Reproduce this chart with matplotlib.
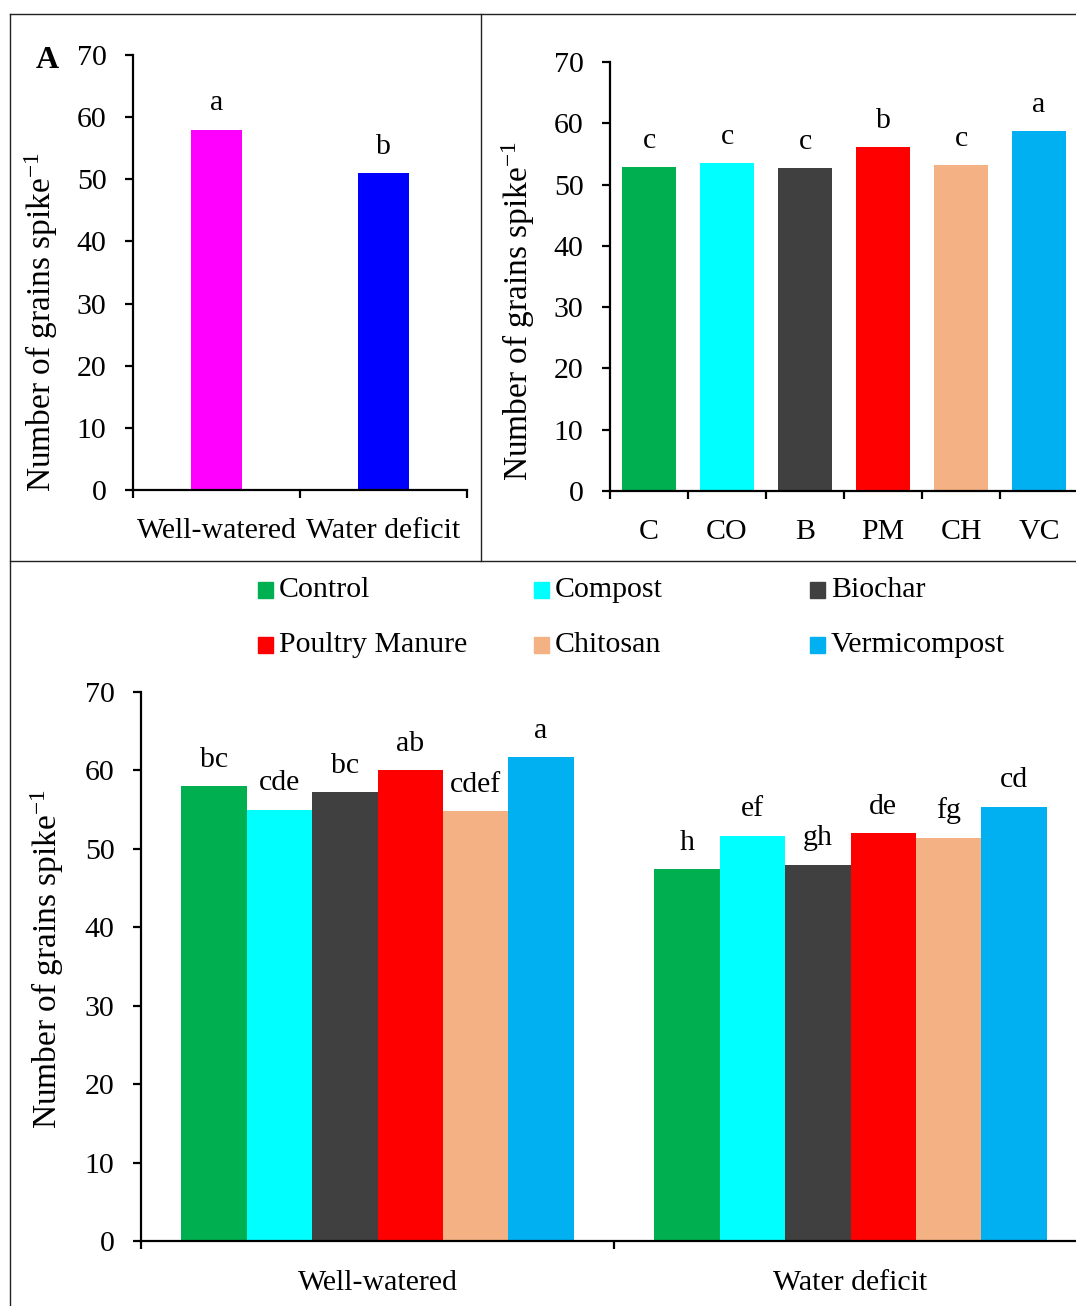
import matplotlib
matplotlib.use("Agg")
import matplotlib.pyplot as plt
from matplotlib.lines import Line2D
from matplotlib.patches import Rectangle
import numpy as np

plt.rcParams['font.family'] = ['Liberation Serif', 'DejaVu Serif']
plt.rcParams['mathtext.fontset'] = 'custom'
plt.rcParams['mathtext.rm'] = 'Liberation Serif'
plt.rcParams['mathtext.default'] = 'regular'

# ---- data ----
water = ['Well-watered', 'Water deficit']
water_vals = [58.0, 51.0]
water_letters = ['a', 'b']
water_colors = ['#FF00FF', '#0000FF']

amend_short = ['C', 'CO', 'B', 'PM', 'CH', 'VC']
amend_vals = [52.8, 53.5, 52.7, 56.1, 53.2, 58.7]
amend_letters = ['c', 'c', 'c', 'b', 'c', 'a']

amend_names = ['Control', 'Compost', 'Biochar', 'Poultry Manure', 'Chitosan', 'Vermicompost']
amend_colors = ['#00B050', '#00FFFF', '#404040', '#FF0000', '#F4B183', '#00B0F0']
ww_vals = [58.0, 55.0, 57.2, 60.0, 54.8, 61.7]
wd_vals = [47.4, 51.7, 48.0, 52.0, 51.4, 55.4]
ww_letters = ['bc', 'cde', 'bc', 'ab', 'cdef', 'a']
wd_letters = ['h', 'ef', 'gh', 'de', 'fg', 'cd']

ylab = 'Number of grains spike$^{-1}$'
FS = 21.5
YFS = 24
W, H = 1076, 1306


def style(ax, ncat, xpad):
    for s in ['top', 'right']:
        ax.spines[s].set_visible(False)
    for s in ['left', 'bottom']:
        ax.spines[s].set_linewidth(1.6)
    ax.set_ylim(0, 70)
    ax.set_yticks(np.arange(0, 71, 10))
    ax.set_xlim(-0.5, ncat - 0.5)
    ax.set_xticks(np.arange(-0.5, ncat, 1.0), minor=True)
    ax.tick_params(axis='y', direction='out', length=6, width=1.6, pad=13, labelsize=FS)
    ax.tick_params(axis='x', which='minor', direction='out', length=6, width=1.6)
    ax.tick_params(axis='x', which='major', length=0, pad=xpad, labelsize=FS)


fig = plt.figure(figsize=(W / 100, H / 100), dpi=100)

# panel A
axA = fig.add_axes([133 / W, 1 - 490 / H, (467 - 133) / W, (490 - 55) / H])
xa = np.arange(len(water))
axA.bar(xa, water_vals, width=0.31, color=water_colors)
axA.set_xticks(xa, water)
style(axA, len(water), 20)
for x, v, t in zip(xa, water_vals, water_letters):
    axA.annotate(t, (x, v), xytext=(0, 14), textcoords='offset points',
                 ha='center', va='baseline', fontsize=FS)
axA.set_ylabel(ylab, fontsize=YFS, va='center')
axA.yaxis.set_label_coords(-0.276, 0.385)
fig.text(47 / W, 1 - 60 / H, 'A', fontsize=23, fontweight='bold', ha='center', va='center')

# panel B
axB = fig.add_axes([610 / W, 1 - 491 / H, (1078 - 610) / W, (491 - 62) / H])
xb = np.arange(len(amend_short))
axB.bar(xb, amend_vals, width=0.70, color=amend_colors)
axB.set_xticks(xb, amend_short)
style(axB, len(amend_short), 20)
for x, v, t in zip(xb, amend_vals, amend_letters):
    axB.annotate(t, (x, v), xytext=(0, 14), textcoords='offset points',
                 ha='center', va='baseline', fontsize=FS)
axB.set_ylabel(ylab, fontsize=YFS, va='center')
axB.yaxis.set_label_coords(-0.197, 0.42)

# bottom panel
axC = fig.add_axes([141 / W, 1 - 1241 / H, (1087 - 141) / W, (1241 - 692) / H])
xg = np.arange(len(water))
bw = 0.1383
for i, (name, col) in enumerate(zip(amend_names, amend_colors)):
    vals = [ww_vals[i], wd_vals[i]]
    labs = [ww_letters[i], wd_letters[i]]
    pos = xg + (i - 2.5) * bw
    axC.bar(pos, vals, width=bw, color=col, label=name)
    for x, v, t in zip(pos, vals, labs):
        axC.annotate(t, (x, v), xytext=(0, 14), textcoords='offset points',
                     ha='center', va='baseline', fontsize=FS)
axC.set_xticks(xg, water)
style(axC, len(water), 21)
axC.set_ylabel(ylab, fontsize=YFS, va='center')
axC.yaxis.set_label_coords(-0.099, 0.514)

# legend drawn as a grid of swatches
for i, (name, col) in enumerate(zip(amend_names, amend_colors)):
    cx = 258 + 276 * (i % 3)
    cy = 590 + 55 * (i // 3)
    fig.patches.append(Rectangle((cx / W, 1 - (cy + 8) / H), 15 / W, 16 / H,
                                 transform=fig.transFigure, color=col))
    fig.text((cx + 21) / W, 1 - cy / H, name, fontsize=FS, ha='left', va='center')

# panel frames
frame = dict(transform=fig.transFigure, color='#222222', lw=1.0)
fig.add_artist(Line2D([10 / W, 1], [1 - 14 / H, 1 - 14 / H], **frame))
fig.add_artist(Line2D([10 / W, 10 / W], [0, 1 - 14 / H], **frame))
fig.add_artist(Line2D([481 / W, 481 / W], [1 - 561 / H, 1 - 14 / H], **frame))
fig.add_artist(Line2D([10 / W, 1], [1 - 561 / H, 1 - 561 / H], **frame))

fig.savefig('out.png', dpi=100)
